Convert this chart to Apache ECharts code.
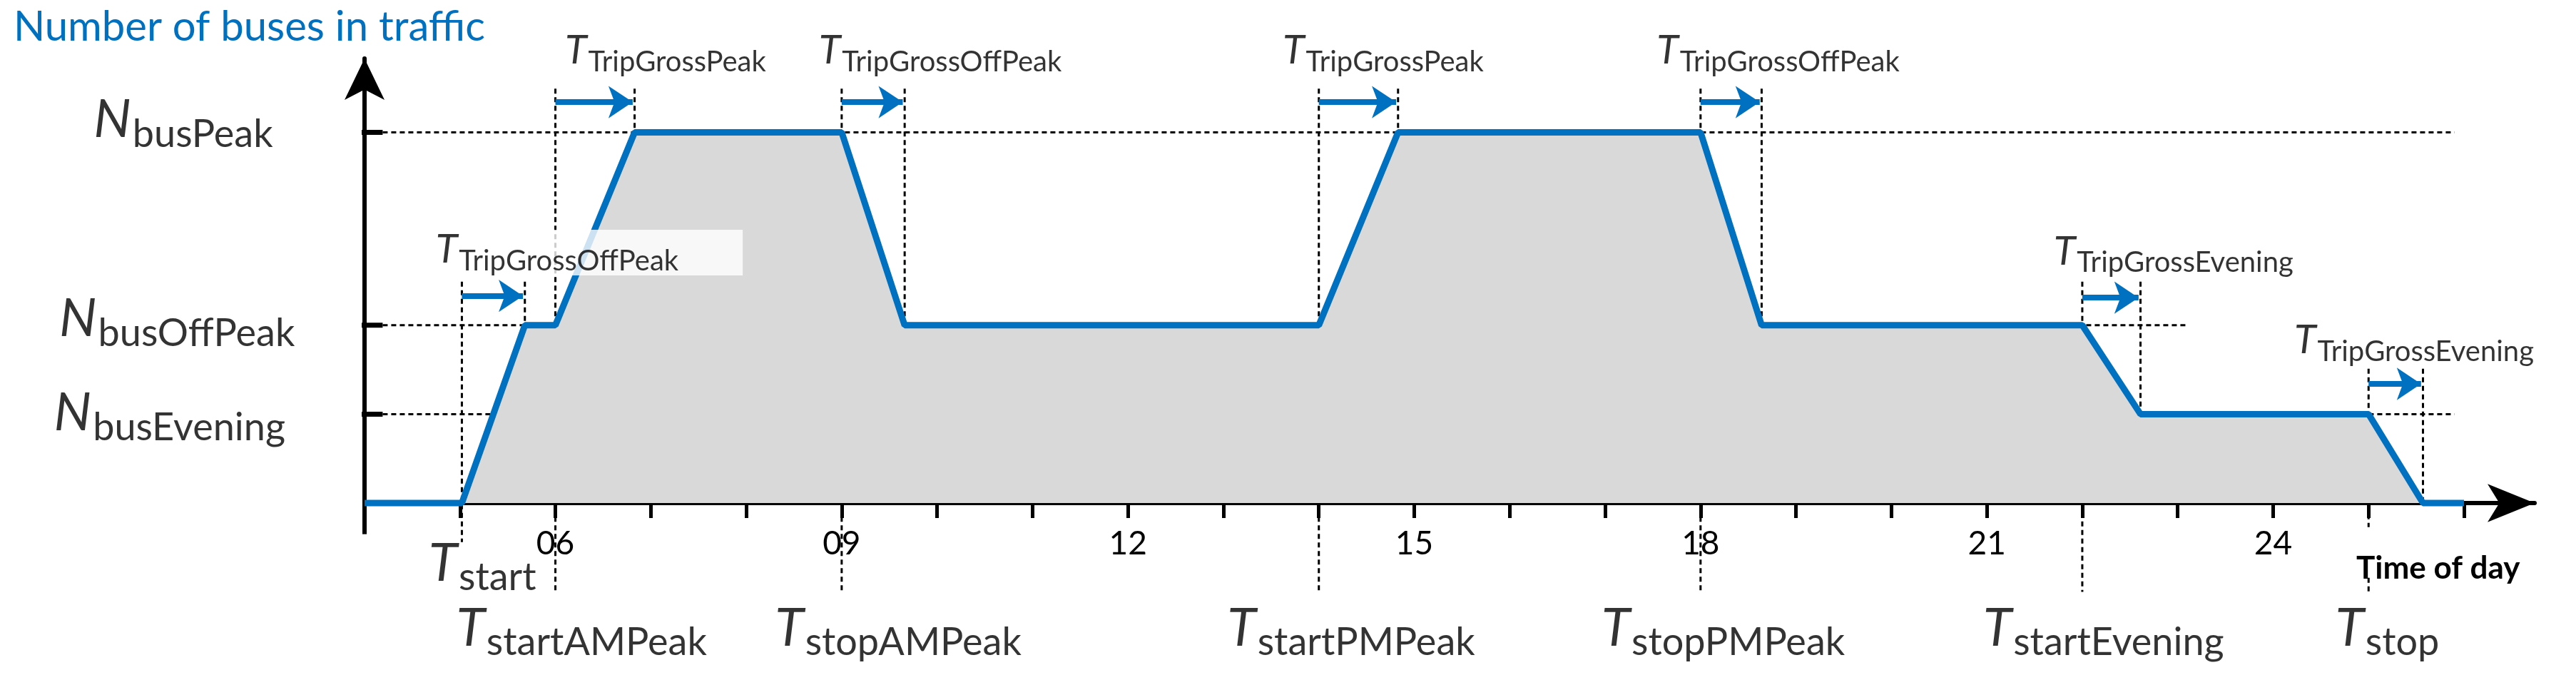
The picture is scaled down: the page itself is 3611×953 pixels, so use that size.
<!DOCTYPE html>
<html>
<head>
<meta charset="utf-8">
<style>html,body{margin:0;padding:0;background:#fff}#main{width:3611px;height:953px}</style>
<script src="https://cdn.jsdelivr.net/npm/echarts@6/dist/echarts.min.js"></script>
</head>
<body>
<div id="main"></div>
<script>
// bus profile (hour of day, level)
var hours  = [4, 5.02, 5.68, 6, 6.83, 9, 9.66, 14, 14.83, 18, 18.64, 22, 22.61, 25, 25.57, 26];
var levels = [0, 0, 2, 2, 4.17, 4.17, 2, 2, 4.17, 4.17, 2, 2, 1, 1, 0, 0];

// reference levels and how far their dotted guides run
var levelNames = ['busPeak', 'busOffPeak', 'busEvening'];
var levelValues = [4.17, 2, 1];
var levelGuideEnd = [25.9, 23.1, 25.9];

// vertical dashed guides: [hour, from, to]
var guides = [
  [5.02, 2.49, -0.44], [5.68, 2.49, 2], [6, 4.66, -1], [6.83, 4.66, 4.17],
  [9, 4.66, -1], [9.66, 4.66, 2], [14, 4.66, -1], [14.83, 4.66, 4.17],
  [18, 4.66, -1], [18.64, 4.66, 2], [22, 2.49, -1], [22.61, 2.49, 1],
  [25, 1.51, -0.27], [25, -0.84, -1], [25.57, 1.51, 0]
];

// trip-time arrows: [from hour, to hour, level]
var arrows = [
  [5.02, 5.68, 2.33], [6, 6.83, 4.51], [9, 9.66, 4.51], [14, 14.83, 4.51],
  [18, 18.64, 4.51], [22, 22.61, 2.31], [25, 25.57, 1.34]
];

// annotation labels: [main, subscript, hour, level, kind]
var annots = [
  ['N', 'busPeak', 3.04, 3.93, 'left'],
  ['N', 'busOffPeak', 3.27, 1.69, 'left'],
  ['N', 'busEvening', 3.17, 0.63, 'left'],
  ['T', 'TripGrossPeak', 6.10, 4.80, 'top'],
  ['T', 'TripGrossOffPeak', 8.76, 4.80, 'top'],
  ['T', 'TripGrossOffPeak', 4.70, 2.56, 'box'],
  ['T', 'TripGrossPeak', 13.62, 4.80, 'top'],
  ['T', 'TripGrossOffPeak', 17.54, 4.80, 'top'],
  ['T', 'TripGrossEvening', 21.70, 2.54, 'top'],
  ['T', 'TripGrossEvening', 24.22, 1.54, 'top'],
  ['T', 'start', 4.67, -1.06, 'bottom'],
  ['T', 'startAMPeak', 4.96, -1.79, 'bottom'],
  ['T', 'stopAMPeak', 8.30, -1.79, 'bottom'],
  ['T', 'startPMPeak', 13.04, -1.79, 'bottom'],
  ['T', 'stopPMPeak', 16.96, -1.79, 'bottom'],
  ['T', 'startEvening', 20.96, -1.79, 'bottom'],
  ['T', 'stop', 24.65, -1.79, 'bottom']
];

var FONT = 'Lato, "Open Sans", sans-serif';
var BLUE = '#0070C0';
var big = {
  m: {fontFamily: FONT, fontStyle: 'italic', fontSize: 74, color: '#000', verticalAlign: 'bottom', padding: [0, 2, 10, 0]},
  s: {fontFamily: FONT, fontSize: 54, color: '#000', verticalAlign: 'bottom'}
};
var small = {
  m: {fontFamily: FONT, fontStyle: 'italic', fontSize: 56, color: '#000', verticalAlign: 'bottom', padding: [0, 2, 8, 0]},
  s: {fontFamily: FONT, fontSize: 40, color: '#000', verticalAlign: 'bottom'}
};

var series = [];
function seg(data, style) {
  series.push({type: 'line', data: data, symbol: 'none', clip: false, silent: true,
    lineStyle: style, z: 3});
}

// area + profile
series.push({
  type: 'line', data: hours.map(function (h, i) { return [h, levels[i]]; }),
  symbol: 'none', lineStyle: {color: BLUE, width: 9}, areaStyle: {color: '#d9d9d9', opacity: 1},
  z: 5, clip: false,
  markLine: {
    silent: true, symbol: ['none', 'arrow'], symbolSize: 34, label: {show: false},
    lineStyle: {color: BLUE, width: 8, type: 'solid'},
    data: arrows.map(function (a) { return [{coord: [a[0], a[2]]}, {coord: [a[1] - 0.02, a[2]]}]; })
  }
});

var dash = {color: '#000', width: 3, type: [7, 5]};
levelValues.forEach(function (v, i) {
  seg([[4.19, v], [levelGuideEnd[i], v]], dash);
  seg([[3.84, v], [4.19, v]], {color: '#000', width: 7});
});
guides.forEach(function (g) { seg([[g[0], g[1]], [g[0], g[2]]], dash); });
// axis stubs beyond origin
seg([[3.67, 0], [4, 0]], {color: '#000', width: 6});
seg([[4, 0], [4, -0.35]], {color: '#000', width: 6});

// labels
series.push({
  type: 'scatter', symbolSize: 0, clip: false, silent: true, z: 10,
  data: annots.map(function (a) {
    var rich = a[4] === 'top' || a[4] === 'box' ? small : big;
    return {
      value: [a[2], a[3]],
      label: {
        show: true, position: 'inside', align: a[4] === 'left' ? 'right' : 'left', verticalAlign: 'bottom',
        formatter: '{m|' + a[0] + '}{s|' + a[1] + '}', rich: rich,
        backgroundColor: a[4] === 'box' ? '#fff' : 'transparent',
        padding: a[4] === 'box' ? [0, 90, 0, 6] : 0
      }
    };
  })
});

var chart = echarts.init(document.getElementById('main'));
chart.setOption({
  animation: false,
  title: {text: 'Number of buses in traffic', left: 14, top: 4,
    textStyle: {color: BLUE, fontFamily: FONT, fontSize: 58, fontWeight: 'normal'}},
  grid: {left: 511, right: 58, top: 82, bottom: 248},
  xAxis: {
    type: 'value', min: 4, max: 26.74, interval: 1,
    axisLine: {onZero: false, symbol: ['none', 'arrow'], symbolSize: [40, 66], lineStyle: {color: '#000', width: 6}},
    axisTick: {length: 21, lineStyle: {color: '#000', width: 5}},
    splitLine: {show: false},
    axisLabel: {
      margin: 34, color: '#000', fontFamily: FONT, fontSize: 46, showMaxLabel: false,
      formatter: function (v) { return (v % 3 === 0 && v >= 6 && v <= 24) ? String(v).padStart(2, '0') : ''; }
    },
    name: 'Time of day', nameLocation: 'end', nameGap: -250,
    nameTextStyle: {fontFamily: FONT, fontWeight: 'bold', fontSize: 44, color: '#000',
      verticalAlign: 'top', padding: [70, 0, 0, 0]}
  },
  yAxis: {
    type: 'value', min: 0, max: 5,
    axisLine: {show: true, symbol: ['none', 'arrow'], symbolSize: [42, 58], lineStyle: {color: '#000', width: 6}},
    axisTick: {show: false}, axisLabel: {show: false}, splitLine: {show: false}
  },
  series: series
});
</script>
</body>
</html>
